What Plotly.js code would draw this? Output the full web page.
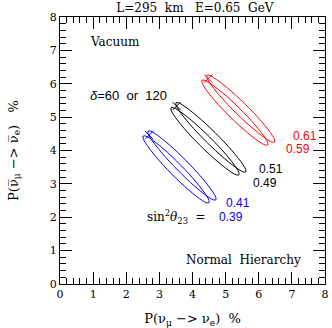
<!DOCTYPE html>
<html>
<head>
<meta charset="utf-8">
<script src="https://cdn.plot.ly/plotly-3.0.1.min.js"></script>
<style>
  body { margin: 0; background: #fff; }
  #plot { width: 332px; height: 328px; }
</style>
</head>
<body>
<div id="plot"></div>
<script>
// points, delta = 0,30,60,75,90,105,120,150,...,330 deg (first point repeated to close)
var blue39x = [3.638, 3.124, 2.712, 2.581, 2.512, 2.512, 2.578, 2.892, 3.370, 3.884, 4.296, 4.428, 4.496, 4.497, 4.430, 4.116, 3.638];
var blue39y = [3.567, 4.049, 4.366, 4.434, 4.433, 4.365, 4.232, 3.817, 3.299, 2.817, 2.500, 2.433, 2.433, 2.502, 2.634, 3.049, 3.567];
var blue41x = [3.816, 3.287, 2.864, 2.730, 2.660, 2.661, 2.730, 3.055, 3.548, 4.077, 4.500, 4.635, 4.704, 4.704, 4.634, 4.309, 3.816];
var blue41y = [3.685, 4.182, 4.510, 4.581, 4.581, 4.512, 4.376, 3.950, 3.417, 2.920, 2.592, 2.522, 2.521, 2.591, 2.726, 3.152, 3.685];

var black49x = [4.510, 3.980, 3.557, 3.423, 3.353, 3.354, 3.423, 3.748, 4.242, 4.772, 5.195, 5.330, 5.399, 5.399, 5.329, 5.004, 4.510];
var black49y = [4.409, 4.894, 5.213, 5.282, 5.281, 5.213, 5.079, 4.662, 4.141, 3.656, 3.337, 3.269, 3.269, 3.338, 3.471, 3.888, 4.409];
var black51x = [4.688, 4.143, 3.709, 3.572, 3.501, 3.503, 3.575, 3.911, 4.420, 4.965, 5.399, 5.537, 5.607, 5.606, 5.533, 5.197, 4.688];
var black51y = [4.527, 5.027, 5.357, 5.429, 5.429, 5.360, 5.223, 4.795, 4.259, 3.759, 3.429, 3.358, 3.357, 3.427, 3.563, 3.991, 4.527];

var red59x = [5.412, 4.898, 4.486, 4.355, 4.286, 4.286, 4.352, 4.666, 5.144, 5.658, 6.070, 6.202, 6.270, 6.271, 6.204, 5.890, 5.412];
var red59y = [5.268, 5.735, 6.041, 6.106, 6.104, 6.037, 5.907, 5.503, 5.000, 4.533, 4.227, 4.163, 4.164, 4.232, 4.361, 4.765, 5.268];
var red61x = [5.590, 5.061, 4.638, 4.504, 4.434, 4.435, 4.504, 4.829, 5.322, 5.851, 6.274, 6.409, 6.478, 6.478, 6.408, 6.083, 5.590];
var red61y = [5.386, 5.868, 6.185, 6.253, 6.252, 6.184, 6.051, 5.636, 5.118, 4.636, 4.319, 4.252, 4.252, 4.321, 4.453, 4.868, 5.386];

// degenerate points (delta=60 or 120)
var crossX = [2.69, 3.52, 4.475];
var crossY = [4.46, 5.33, 6.155];
var crossColors = ["#0000ff", "#000000", "#ff0000"];

var serif = "DejaVu Serif";
var sans = "Liberation Sans, Arial, sans-serif";

function contour(x, y, color) {
  return {
    x: x, y: y, type: "scatter", mode: "lines",
    line: {color: color, width: 1, shape: "spline", smoothing: 1},
    hoverinfo: "skip", showlegend: false
  };
}

var data = [
  contour(blue39x, blue39y, "#0000ff"),
  contour(blue41x, blue41y, "#0000ff"),
  contour(black49x, black49y, "#000000"),
  contour(black51x, black51y, "#000000"),
  contour(red59x, red59y, "#ff0000"),
  contour(red61x, red61y, "#ff0000"),
  {
    x: crossX, y: crossY, type: "scatter", mode: "markers",
    marker: {symbol: "x-thin", size: 8, line: {width: 1, color: crossColors}},
    showlegend: false
  }
];

function note(x, y, text, color, font, size, anchor) {
  return {
    x: x, y: y, xref: "x", yref: "y", text: text, showarrow: false,
    xanchor: anchor || "left", yanchor: "middle",
    font: {family: font, size: size, color: color}
  };
}

var axisStyle = {
  range: [0, 8], dtick: 1, showgrid: false, zeroline: false,
  showline: true, linecolor: "#000", linewidth: 1, mirror: "ticks",
  ticks: "inside", ticklen: 12, tickcolor: "#000", tickwidth: 1,
  minor: {dtick: 0.2, ticks: "inside", ticklen: 6, tickcolor: "#000", tickwidth: 1},
  tickfont: {family: serif, size: 11, color: "#000"}
};

var layout = {
  width: 332, height: 328,
  margin: {l: 59.5, r: 6.5, t: 16.5, b: 43.5},
  paper_bgcolor: "#fff", plot_bgcolor: "#fff",
  title: {
    text: "L=295\u00a0\u00a0km\u00a0\u00a0\u00a0E=0.65\u00a0\u00a0GeV",
    font: {family: serif, size: 12, color: "#000"},
    xref: "container", x: 0.587, xanchor: "center",
    yref: "container", y: 0.977, yanchor: "middle"
  },
  xaxis: Object.assign({}, axisStyle, {
    title: {text: "P(\u03bd<sub>\u03bc</sub> \u2212> \u03bd<sub>e</sub>)\u00a0\u00a0%",
            font: {family: serif, size: 13, color: "#000"}, standoff: 13}
  }),
  yaxis: Object.assign({}, axisStyle, {
    title: {text: "P(\u03bd\u0305<sub>\u03bc</sub> \u2212> \u03bd\u0305<sub>e</sub>)\u00a0\u00a0\u00a0%",
            font: {family: serif, size: 13, color: "#000"}, standoff: 28}
  }),
  annotations: [
    note(0.86, 7.24, "Vacuum", "#000", serif, 12),
    note(0.86, 5.66, "<i>\u03b4</i>=60\u00a0\u00a0or\u00a0\u00a0120", "#000", sans, 13),
    note(2.57, 2.02, "sin<sup>2</sup><i>\u03b8</i><sub>23</sub>\u00a0\u00a0=", "#000", serif, 12),
    note(4.95, 2.44, "0.41", "#0000ff", sans, 12),
    note(4.73, 2.02, "0.39", "#0000ff", sans, 12),
    note(5.95, 3.44, "0.51", "#000", sans, 12),
    note(5.76, 3.04, "0.49", "#000", sans, 12),
    note(6.98, 4.43, "0.61", "#ff0000", sans, 12),
    note(6.76, 4.04, "0.59", "#ff0000", sans, 12),
    note(7.35, 0.73, "Normal\u00a0\u00a0Hierarchy", "#000", serif, 12, "right")
  ]
};

Plotly.newPlot("plot", data, layout, {displayModeBar: false, staticPlot: true});
</script>
</body>
</html>
